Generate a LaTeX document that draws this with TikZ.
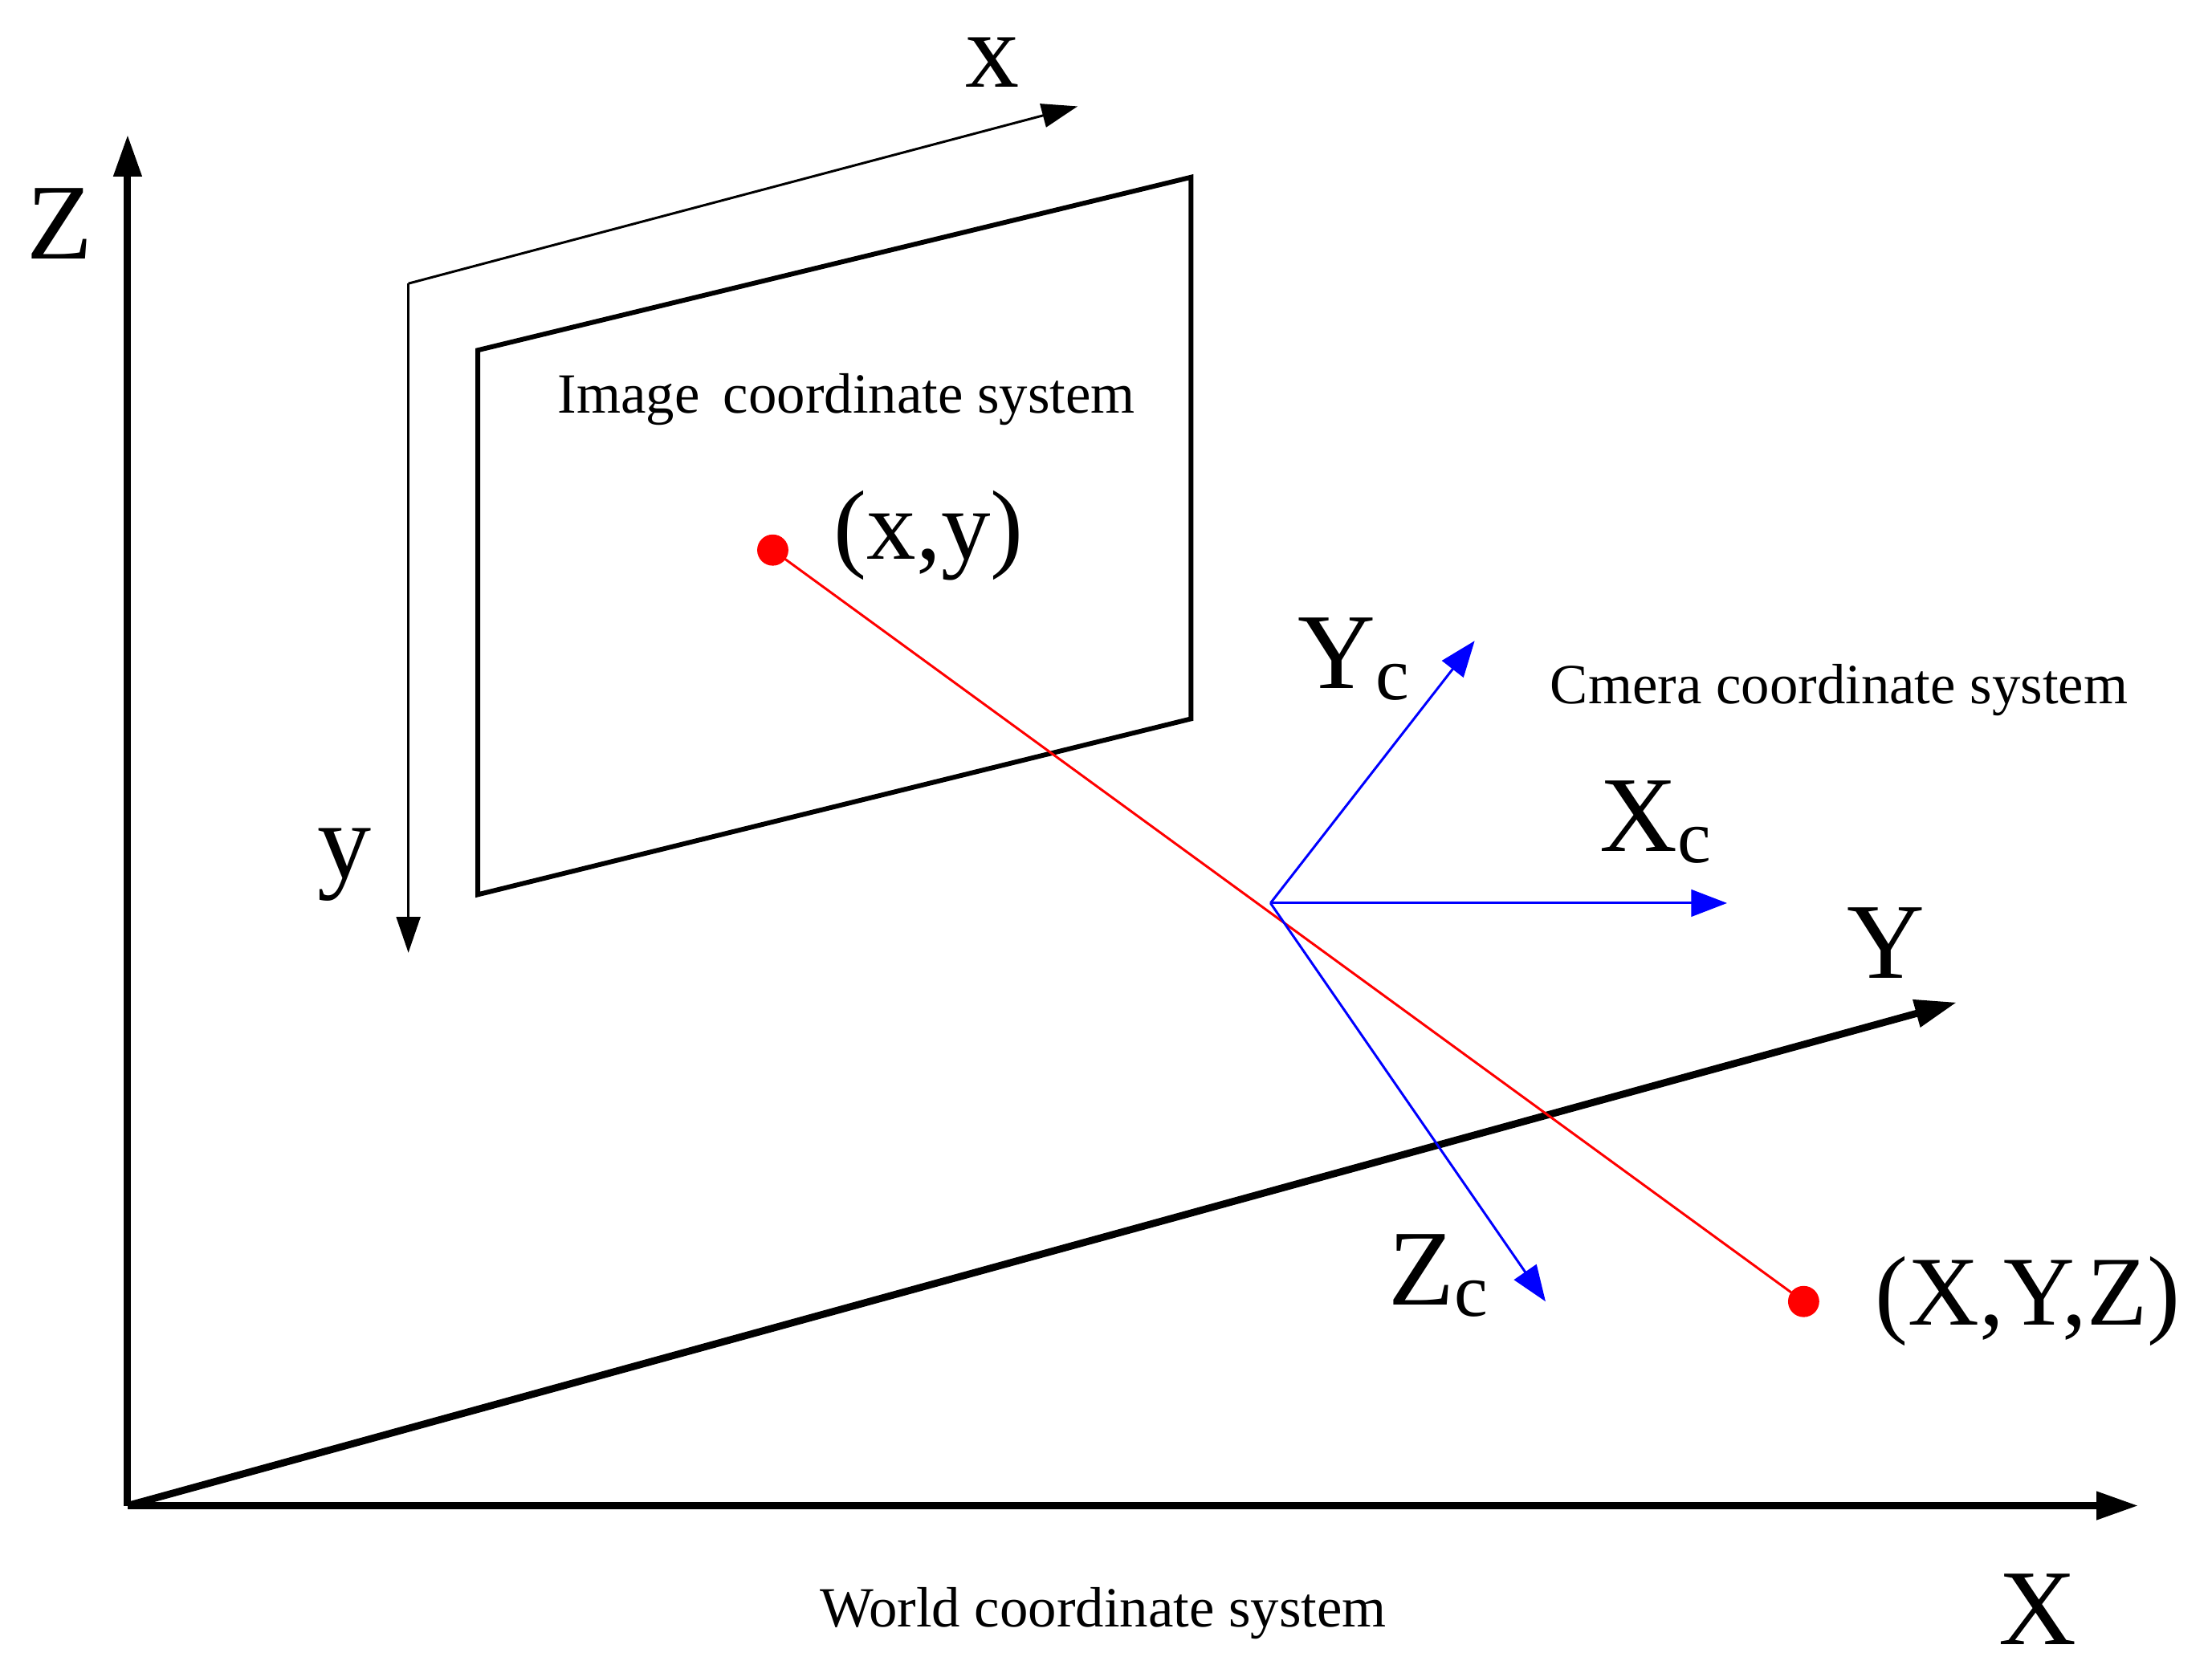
\documentclass[tikz,border=0pt]{standalone}
\usepackage{fontspec}
\setmainfont{Liberation Serif}
\usetikzlibrary{arrows.meta}
\begin{document}
\begin{tikzpicture}[x=0.01667cm,y=-0.01667cm,
 ax/.style={line width=2.4pt,-{Triangle[length=14pt,width=9pt]}},
 thin/.style={line width=0.8pt,-{Triangle[length=12pt,width=8pt]}},
 cam/.style={blue,line width=0.8pt,-{Triangle[length=12pt,width=9pt]}},
 big/.style={font=\fontsize{36}{40}\selectfont},
 mid/.style={font=\fontsize{33}{36}\selectfont},
 small/.style={font=\fontsize{19}{22}\selectfont}]
\useasboundingbox (0,0) rectangle (1560,1174);
\coordinate (O) at (90,1062);
\coordinate (Zt) at (90,95);
\coordinate (Xt) at (1508,1062);
\coordinate (Yt) at (1380,707);
\draw[ax] (O) -- (Zt);
\draw[ax] (O) -- (Xt);
\draw[ax] (O) -- (Yt);
\node[big] (Zl) at (42,158) {Z};
\node[big] (Xl) at (1437,1135) {X};
\node[big] (Yl) at (1330,665) {Y};
\node[small] (wcs) at (778,1138) {World coordinate system};
\draw[line width=1.6pt] (337,247) -- (840,125) -- (840,507) -- (337,631) -- cycle;
\coordinate (io) at (288,200);
\coordinate (ix) at (760,75);
\coordinate (iy) at (288,672);
\draw[thin] (io) -- (ix);
\draw[thin] (io) -- (iy);
\node[big] (xl) at (700,44) {x};
\node[big] (yl) at (243,610) {y};
\node[small] (ics) at (597,282) {Image\, coordinate system};
\coordinate (p) at (545,388);
\coordinate (P) at (1272,918);
\draw[red,line width=0.8pt] (p) -- (P);
\fill[red] (p) circle (11);
\fill[red] (P) circle (11);
\node[mid] (pl) at (655,378) {(x,y)};
\node[mid] (Pl) at (1430,918) {(X,Y,Z)};
\coordinate (C) at (896,637);
\draw[cam] (C) -- (1040,452);
\draw[cam] (C) -- (1218,637);
\draw[cam] (C) -- (1090,918);
\node[big] (Ycl) at (955,465) {Y\textsubscript{c}};
\node[big] (Xcl) at (1168,580) {X\textsubscript{c}};
\node[big] (Zcl) at (1015,900) {Z\textsubscript{c}};
\node[small] (ccs) at (1297,487) {Cmera coordinate system};
\end{tikzpicture}
\end{document}
